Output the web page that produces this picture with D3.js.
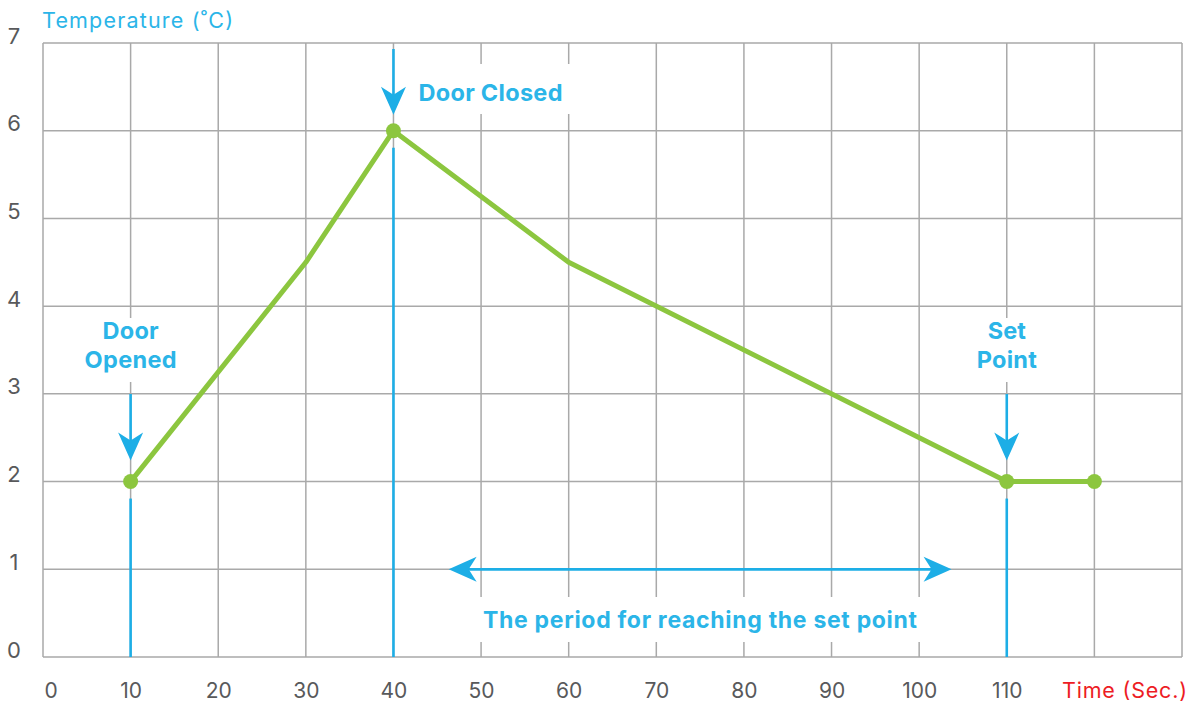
<!DOCTYPE html>
<html><head><meta charset="utf-8">
<script src="https://cdn.jsdelivr.net/npm/d3@7/dist/d3.min.js"></script>
<style>body{margin:0;background:#fff}svg{display:block}</style>
</head><body><div id="chart"></div>
<script>
const timeValues = [10, 30, 40, 60, 110, 120];
const tempValues = [2, 4.5, 6, 4.5, 2, 2];
const markerTimes = [10, 40, 110, 120];
const xTicks = [0, 10, 20, 30, 40, 50, 60, 70, 80, 90, 100, 110];
const yTicks = [0, 1, 2, 3, 4, 5, 6, 7];
const xGrid = [0, 10, 20, 30, 40, 50, 60, 70, 80, 90, 100, 110, 120, 130];
const eventTimes = [10, 40, 110];
const eventTemps = [2, 6, 2];
const eventLabels = [["Door", "Opened"], ["Door Closed"], ["Set", "Point"]];
const periodRange = [46.3, 103.7];
const periodLevel = 1;
const periodLabel = "The period for reaching the set point";
const yTitle = "Temperature (˚C)";
const xTitle = "Time (Sec.)";

const W = 1193, H = 705;
const FONT = "Inter, 'Open Sans', sans-serif";
const BLUE = "#1daee6", TEXTBLUE = "#2bb5e8", GREEN = "#8cc63f", GRID = "#a9a9a9";

const svg = d3.select("#chart").append("svg").attr("width", W).attr("height", H);
const x = d3.scaleLinear().domain([0, 130]).range([43, 1182]);
const y = d3.scaleLinear().domain([0, 7]).range([657, 43]);

// fit text width to the reference's wider typeface
const fit = (sel, w) => sel.attr("textLength", w).attr("lengthAdjust", "spacing");

// grid
const g = svg.append("g");
g.selectAll("line.v").data(xGrid).join("line")
  .attr("x1", d => x(d)).attr("x2", d => x(d)).attr("y1", y(0)).attr("y2", y(7))
  .attr("stroke", GRID).attr("stroke-width", 1.5);
g.selectAll("line.h").data(yTicks).join("line")
  .attr("x1", x(0)).attr("x2", x(130)).attr("y1", d => y(d)).attr("y2", d => y(d))
  .attr("stroke", GRID).attr("stroke-width", 1.5);

// axes labels
const xAxis = svg.append("g").attr("transform", `translate(0,${y(0)})`)
  .call(d3.axisBottom(x).tickValues(xTicks).tickSize(0).tickFormat(d3.format("d")));
xAxis.select(".domain").remove();
xAxis.selectAll("text").attr("y", 41).attr("dy", 0)
  .attr("font-family", FONT).attr("font-size", 21).attr("fill", "#58595b");
xAxis.selectAll(".tick").filter(d => d === 0).select("text").attr("text-anchor", "start").attr("x", 1);

const yAxis = svg.append("g").attr("transform", `translate(14,0)`)
  .call(d3.axisLeft(y).tickValues(yTicks).tickSize(0).tickFormat(d3.format("d")));
yAxis.select(".domain").remove();
yAxis.selectAll("text").attr("x", 0).attr("dy", 0).attr("text-anchor", "middle")
  .attr("font-family", FONT).attr("font-size", 22).attr("fill", "#58595b");

fit(svg.append("text").attr("x", 42).attr("y", 28).text(yTitle)
  .attr("font-family", FONT).attr("font-size", 21.5).attr("fill", TEXTBLUE), 191);
fit(svg.append("text").attr("x", 1062).attr("y", 698).text(xTitle)
  .attr("font-family", FONT).attr("font-size", 21.5).attr("fill", "#ed1c24"), 125);

// white boxes behind annotation labels
const boxes = [
  {x0: x(10) - 50, x1: x(10) + 50, y0: 318, y1: 382},
  {x0: x(40) + 12, x1: x(40) + 180, y0: 64, y1: 114},
  {x0: x(110) - 50, x1: x(110) + 50, y0: 318, y1: 382},
  {x0: x(periodRange[0]) + 20, x1: x(periodRange[1]) - 20, y0: 597, y1: 642}
];
svg.selectAll("rect.box").data(boxes).join("rect")
  .attr("x", d => d.x0).attr("y", d => d.y0).attr("width", d => d.x1 - d.x0).attr("height", d => d.y1 - d.y0)
  .attr("fill", "#fff");

// annotation labels
const labelWidths = [[56, 92], [144], [38, 60]];
const ann = svg.append("g").attr("font-family", FONT).attr("font-weight", 700).attr("fill", TEXTBLUE);
eventLabels.forEach((lines, i) => {
  if (lines.length === 1) {
    fit(ann.append("text").attr("x", x(eventTimes[i]) + 25).attr("y", 101).attr("font-size", 23.5).text(lines[0]), labelWidths[i][0]);
  } else {
    lines.forEach((t, j) => fit(ann.append("text").attr("x", x(eventTimes[i]) - labelWidths[i][j] / 2).attr("y", 339 + j * 29)
      .attr("font-size", 23.5).text(t), labelWidths[i][j]));
  }
});
fit(ann.append("text").attr("x", 483).attr("y", 628)
  .attr("font-size", 23).text(periodLabel), 434);

// event vertical lines and arrows
const arrowHead = (tx, ty, dir) => {
  const L = 28, Wd = 12.5, N = 20;
  let pts;
  if (dir === "down") pts = [[tx, ty], [tx - Wd, ty - L], [tx, ty - N], [tx + Wd, ty - L]];
  else if (dir === "left") pts = [[tx, ty], [tx + L, ty - Wd], [tx + N, ty], [tx + L, ty + Wd]];
  else pts = [[tx, ty], [tx - L, ty - Wd], [tx - N, ty], [tx - L, ty + Wd]];
  return "M" + pts.map(p => p.join(",")).join("L") + "Z";
};
const arrowTop = [394, 49, 394];
eventTimes.forEach((t, i) => {
  const px = x(t), py = y(eventTemps[i]);
  const tipOff = i === 1 ? 16 : 21;
  svg.append("line").attr("x1", px).attr("x2", px).attr("y1", y(0)).attr("y2", py + 17)
    .attr("stroke", BLUE).attr("stroke-width", 2.6);
  svg.append("line").attr("x1", px).attr("x2", px).attr("y1", arrowTop[i]).attr("y2", py - tipOff - 10)
    .attr("stroke", BLUE).attr("stroke-width", 2.6);
  svg.append("path").attr("d", arrowHead(px, py - tipOff, "down")).attr("fill", BLUE);
});

// period double arrow
const ay = y(periodLevel);
svg.append("line").attr("x1", x(periodRange[0]) + 15).attr("x2", x(periodRange[1]) - 15)
  .attr("y1", ay).attr("y2", ay).attr("stroke", BLUE).attr("stroke-width", 2.8);
svg.append("path").attr("d", arrowHead(x(periodRange[0]), ay, "left")).attr("fill", BLUE);
svg.append("path").attr("d", arrowHead(x(periodRange[1]), ay, "right")).attr("fill", BLUE);

// temperature line
const line = d3.line().x(d => x(d[0])).y(d => y(d[1]));
const pts = timeValues.map((t, i) => [t, tempValues[i]]);
svg.append("path").datum(pts).attr("d", line).attr("fill", "none")
  .attr("stroke", GREEN).attr("stroke-width", 5).attr("stroke-linejoin", "round");
svg.selectAll("circle.m").data(pts.filter(p => markerTimes.includes(p[0]))).join("circle")
  .attr("cx", d => x(d[0])).attr("cy", d => y(d[1])).attr("r", 7.5).attr("fill", GREEN);
</script></body></html>
